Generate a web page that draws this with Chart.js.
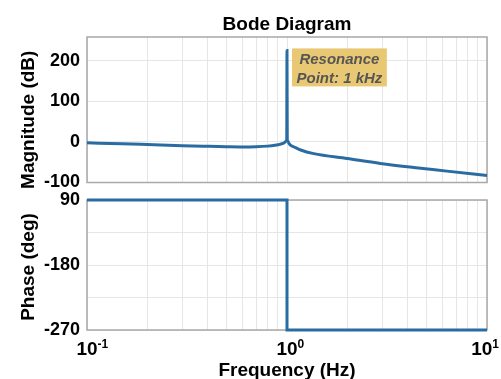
<!DOCTYPE html>
<html><head><meta charset="utf-8">
<script src="https://cdn.jsdelivr.net/npm/chart.js@4/dist/chart.umd.min.js"></script>
<style>
html,body{margin:0;padding:0;background:#fff;}
#wrap{position:relative;width:501px;height:379px;overflow:hidden;}
#c1{position:absolute;left:0;top:0;}
#c2{position:absolute;left:0;top:190px;}
</style></head><body>
<div id="wrap">
<canvas id="c1" width="501" height="190"></canvas>
<canvas id="c2" width="501" height="189"></canvas>
</div>
<script>
// ---- data ----
const freqHz      = [0.1, 0.15, 0.2, 0.3, 0.4, 0.5, 0.6, 0.7, 0.8, 0.87, 0.93, 0.97, 0.99, 0.997, 1.0, 1.003, 1.01, 1.02, 1.04, 1.08, 1.17, 1.36, 2.0, 2.93, 4.3, 6.3, 10];
const magnitudeDb = [-2.5, -4.5, -6.5, -9.5, -11, -12, -12.5, -12, -10.5, -8.5, -5.5, -2, 1.5, 5, 225, 5, 2, -3, -8, -12, -20, -29, -41, -53, -63, -72, -83];
const phaseFreqHz = [0.1, 1, 1, 10];
const phaseDeg    = [90, 90, -270, -270];
const magTicks    = [-100, 0, 100, 200];
const phaseGrid   = [-270, -180, -90, 0, 90];
const phaseTickLabels = ['-270', '', '-180', '', '90'];
const xGrid = [0.1,0.2,0.3,0.4,0.5,0.6,0.7,0.8,0.9,1,2,3,4,5,6,7,8,9,10];
const xTickValues = [0.1, 1, 10];
const xTickExponents = ['-1', '0', '1'];
const resonanceHz = 1;
const resonancePeakDb = 225;
const annotationLines = ['Resonance', 'Point: 1 kHz'];
const chartTitle = 'Bode Diagram';
const magLabel = 'Magnitude (dB)';
const phaseLabel = 'Phase (deg)';
const freqLabel = 'Frequency (Hz)';

// ---- styling ----
const FONT = "'Liberation Sans', Arial, Helvetica, sans-serif";
const LINE = '#2a6ca2';
const GRID = '#e6e6e6';
const BOX = '#a8a8a8';

const xScaleBase = (h) => ({
  type: 'logarithmic', min: 0.1, max: 10,
  afterBuildTicks: s => { s.ticks = xGrid.map(v => ({ value: v })); },
  afterFit: s => { s.height = h; s.paddingLeft = 0; s.paddingRight = 0; },
  ticks: { display: false },
  grid: { color: GRID, lineWidth: 1, drawTicks: false },
  border: { display: false }
});

const boxPlugin = {
  id: 'box',
  beforeDatasetsDraw(chart) {
    const a = chart.chartArea, c = chart.ctx;
    c.save(); c.strokeStyle = BOX; c.lineWidth = 1.5;
    c.strokeRect(a.left, a.top, a.right - a.left, a.bottom - a.top);
    c.restore();
  }
};

function yTitle(c, text, x, yc) {
  c.save();
  c.translate(x, yc); c.rotate(-Math.PI / 2);
  c.font = 'bold 19px ' + FONT; c.fillStyle = '#000';
  c.textAlign = 'center'; c.textBaseline = 'alphabetic';
  c.fillText(text, 0, 0);
  c.restore();
}

const topDeco = {
  id: 'topDeco',
  afterDraw(chart) {
    const a = chart.chartArea, c = chart.ctx;
    const cx = (a.left + a.right) / 2;
    c.save();
    c.font = 'bold 19px ' + FONT; c.fillStyle = '#000';
    c.textAlign = 'center'; c.textBaseline = 'alphabetic';
    c.fillText(chartTitle, cx, 30);
    c.restore();
    yTitle(c, magLabel, 34, (a.top + a.bottom) / 2 + 10);
    // annotation
    const xs = chart.scales.x, ys = chart.scales.y;
    const px = xs.getPixelForValue(resonanceHz), py = ys.getPixelForValue(resonancePeakDb);
    c.save();
    c.font = 'italic bold 15px ' + FONT;
    const w = Math.max(...annotationLines.map(t => c.measureText(t).width)) + 9;
    const x0 = px + 5, y0 = py - 2, h = 38;
    c.fillStyle = '#e9c873';
    c.fillRect(x0, y0, w, h);
    c.fillStyle = '#565656'; c.textAlign = 'center'; c.textBaseline = 'middle';
    annotationLines.forEach((t, i) => c.fillText(t, x0 + w / 2, y0 + 11 + i * 19));
    c.restore();
  }
};

const bottomDeco = {
  id: 'bottomDeco',
  afterDraw(chart) {
    const a = chart.chartArea, c = chart.ctx, xs = chart.scales.x;
    const cx = (a.left + a.right) / 2;
    c.save();
    c.fillStyle = '#000'; c.textBaseline = 'alphabetic';
    xTickValues.forEach((v, i) => {
      const px = xs.getPixelForValue(v);
      c.font = 'bold 19px ' + FONT;
      const bw = c.measureText('10').width;
      c.font = 'bold 12px ' + FONT;
      const ew = c.measureText(xTickExponents[i]).width;
      let left = px - bw / 2;
      if (left + bw + ew > chart.width - 2) left = chart.width - 2 - bw - ew;
      c.font = 'bold 19px ' + FONT; c.textAlign = 'left';
      c.fillText('10', left, 165);
      c.font = 'bold 12px ' + FONT;
      c.fillText(xTickExponents[i], left + bw, 158);
    });
    c.font = 'bold 19px ' + FONT; c.textAlign = 'center';
    c.fillText(freqLabel, cx, 186);
    c.restore();
    yTitle(c, phaseLabel, 34, (a.top + a.bottom) / 2 + 2);
  }
};

const yFit = s => { s.width = 87; s.paddingTop = 0; s.paddingBottom = 0; };

new Chart(document.getElementById('c1'), {
  type: 'scatter',
  data: { datasets: [{
    data: freqHz.map((f, i) => ({ x: f, y: magnitudeDb[i] })),
    showLine: true, borderColor: LINE, borderWidth: 3, pointRadius: 0,
    cubicInterpolationMode: 'monotone', clip: 4
  }] },
  options: {
    responsive: false, animation: false, devicePixelRatio: 1,
    layout: { padding: { top: 37, right: 14, left: 0, bottom: 0 } },
    plugins: { legend: { display: false }, tooltip: { enabled: false } },
    scales: {
      x: xScaleBase(7.5),
      y: {
        min: -100, max: 258,
        afterBuildTicks: s => { s.ticks = magTicks.map(v => ({ value: v })); },
        afterFit: yFit,
        ticks: { color: '#000', font: { family: FONT, size: 18, weight: 'bold' }, padding: 7 },
        grid: { color: GRID, drawTicks: false },
        border: { display: false }
      }
    }
  },
  plugins: [boxPlugin, topDeco]
});

new Chart(document.getElementById('c2'), {
  type: 'scatter',
  data: { datasets: [{
    data: phaseFreqHz.map((f, i) => ({ x: f, y: phaseDeg[i] })),
    showLine: true, borderColor: LINE, borderWidth: 3, pointRadius: 0, clip: 4
  }] },
  options: {
    responsive: false, animation: false, devicePixelRatio: 1,
    layout: { padding: { top: 10, right: 14, left: 0, bottom: 0 } },
    plugins: { legend: { display: false }, tooltip: { enabled: false } },
    scales: {
      x: xScaleBase(49),
      y: {
        min: -270, max: 90,
        afterBuildTicks: s => { s.ticks = phaseGrid.map(v => ({ value: v })); },
        afterFit: yFit,
        ticks: {
          color: '#000', font: { family: FONT, size: 18, weight: 'bold' }, padding: 7,
          callback: (v, i) => phaseTickLabels[i]
        },
        grid: { color: GRID, drawTicks: false },
        border: { display: false }
      }
    }
  },
  plugins: [boxPlugin, bottomDeco]
});
</script>
</body></html>
